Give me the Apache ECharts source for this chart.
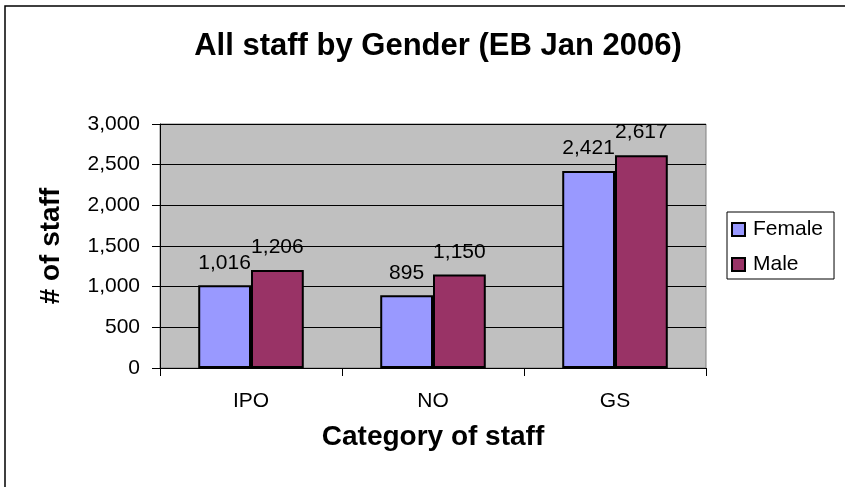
<!DOCTYPE html>
<html>
<head>
<meta charset="utf-8">
<script src="https://cdn.jsdelivr.net/npm/echarts@6/dist/echarts.min.js"></script>
<style>
html, body { margin: 0; padding: 0; background: #fff; }
#main { width: 845px; height: 487px; }
</style>
</head>
<body>
<div id="main"></div>
<script>
// data
var categories = ['IPO', 'NO', 'GS'];
var female = [1016, 895, 2421];
var male = [1206, 1150, 2617];
var yTicks = [0, 500, 1000, 1500, 2000, 2500, 3000];

var font = 'Liberation Sans, Arial, sans-serif';

function fmt(v) {
	return v.toLocaleString('en-US');
}

var myChart = echarts.init(document.getElementById('main'));

var labelOpt = {
	show: true,
	position: 'top',
	distance: 12,
	color: '#000',
	fontFamily: font,
	fontSize: 21,
	formatter: function (p) { return fmt(p.value); }
};

option = {
	animation: false,
	backgroundColor: '#fff',
	title: {
		text: 'All staff by Gender (EB Jan 2006)',
		left: 433,
		textAlign: 'center',
		top: 26,
		textStyle: { fontFamily: font, fontSize: 31, fontWeight: 'bold', color: '#000' }
	},
	// outer chart border (only top and left edges are visible)
	graphic: [{
		type: 'polyline',
		shape: { points: [[5, 487], [5, 6], [845, 6]] },
		style: { stroke: '#000', lineWidth: 1.5, fill: null }
	}],
	legend: {
		orient: 'vertical',
		left: 727,
		top: 212,
		padding: [7, 11, 4, 4],
		itemGap: 14,
		itemWidth: 13,
		itemHeight: 13,
		icon: 'rect',
		backgroundColor: '#fff',
		borderColor: '#000',
		borderWidth: 1,
		textStyle: { fontFamily: font, fontSize: 21, color: '#000', padding: [0, 0, 0, 3] },
		data: ['Female', 'Male']
	},
	grid: {
		left: 160,
		right: 139,
		top: 124,
		bottom: 119,
		show: true,
		backgroundColor: '#C0C0C0',
		borderColor: '#808080',
		borderWidth: 1
	},
	xAxis: {
		type: 'category',
		data: categories,
		name: 'Category of staff',
		nameLocation: 'middle',
		nameGap: 55,
		nameTextStyle: { fontFamily: font, fontSize: 28, fontWeight: 'bold', color: '#000' },
		axisLine: { lineStyle: { color: '#000', width: 1 } },
		axisTick: { show: true, length: 8, alignWithLabel: false, lineStyle: { color: '#000' } },
		axisLabel: { margin: 23, fontFamily: font, fontSize: 21, color: '#000' }
	},
	yAxis: {
		type: 'value',
		min: yTicks[0],
		max: yTicks[yTicks.length - 1],
		interval: 500,
		name: '# of staff',
		nameLocation: 'middle',
		nameGap: 95,
		nameTextStyle: { fontFamily: font, fontSize: 28, fontWeight: 'bold', color: '#000' },
		axisLine: { show: true, lineStyle: { color: '#000', width: 1 } },
		axisTick: { show: true, length: 8, lineStyle: { color: '#000' } },
		axisLabel: { margin: 20, fontFamily: font, fontSize: 21, color: '#000', formatter: function (v) { return fmt(v); } },
		splitLine: { show: true, lineStyle: { color: '#000', width: 1 } }
	},
	series: [{
		name: 'Female',
		type: 'bar',
		data: female,
		barGap: '0%',
		barCategoryGap: '42%',
		itemStyle: { color: '#9999FF', borderColor: '#000', borderWidth: 2 },
		label: labelOpt
	}, {
		name: 'Male',
		type: 'bar',
		data: male,
		itemStyle: { color: '#993366', borderColor: '#000', borderWidth: 2 },
		label: labelOpt
	}]
};

myChart.setOption(option);
</script>
</body>
</html>
